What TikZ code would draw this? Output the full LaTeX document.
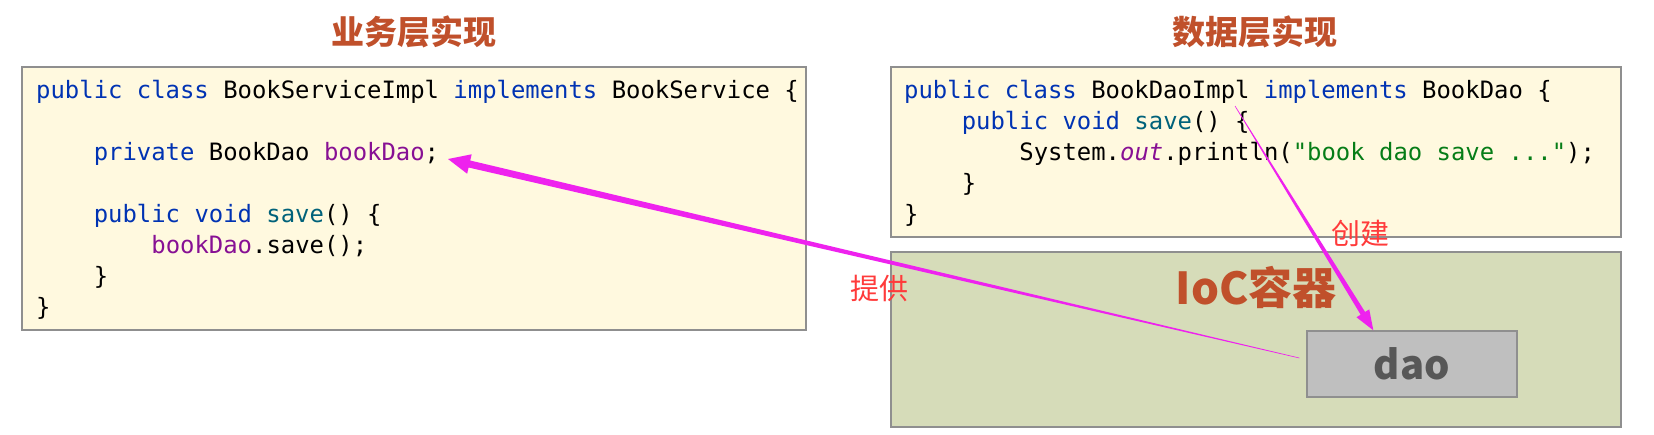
\documentclass[tikz,border=0pt]{standalone}
\usepackage{fontspec}
\usetikzlibrary{calc}
\newfontfamily\codefont{DejaVu Sans Mono}[Ligatures={}]
\newfontfamily\cjk{Noto Sans CJK SC}
\definecolor{kwblue}{HTML}{0033B3}
\definecolor{fieldpurple}{HTML}{871094}
\definecolor{methteal}{HTML}{00627A}
\definecolor{strgreen}{HTML}{067D17}
\definecolor{codebg}{HTML}{FFF9DF}
\definecolor{boxline}{HTML}{8F8F8F}
\definecolor{iocbg}{HTML}{D6DCB9}
\definecolor{daobg}{HTML}{BFBFBF}
\definecolor{daotext}{HTML}{575757}
\definecolor{titlered}{HTML}{C0502B}
\definecolor{labelred}{HTML}{FF3B3B}
\definecolor{arrowmag}{HTML}{EE22EE}
\newcommand{\ckw}[1]{\textcolor{kwblue}{#1}}
\newcommand{\cfd}[1]{\textcolor{fieldpurple}{#1}}
\newcommand{\cme}[1]{\textcolor{methteal}{#1}}
\newcommand{\cst}[1]{\textcolor{strgreen}{#1}}
% tapered arrow: #1 start, #2 tip, #3 start half width, #4 shaft half width, #5 head length, #6 head half width
\newcommand{\taperarrow}[6]{%
  \coordinate (#2-base) at ($(#2)!#5!(#1)$);
  \fill[arrowfill] ($(#1)!#3!90:(#2)$) -- ($(#2-base)!#4!-90:(#1)$) -- ($(#2-base)!#6!-90:(#1)$) -- (#2)
    -- ($(#2-base)!#6!90:(#1)$) -- ($(#2-base)!#4!90:(#1)$) -- ($(#1)!#3!-90:(#2)$) -- cycle;
}
\tikzset{
  codebox/.style={draw=boxline, line width=1.3pt, fill=codebg},
  iocbox/.style={draw=boxline, line width=1.3pt, fill=iocbg},
  daobox/.style={draw=boxline, line width=1.3pt, fill=daobg},
  code/.style={anchor=base west, inner sep=0pt, font=\codefont\fontsize{23.9}{31}\selectfont},
  title/.style={inner sep=0pt, text=titlered, font=\cjk\bfseries\fontsize{33}{40}\selectfont},
  lbl/.style={inner sep=0pt, text=labelred, font=\cjk\fontsize{29}{34}\selectfont},
  arrowfill/.style={fill=arrowmag},
}
\begin{document}
\begin{tikzpicture}[x=1pt,y=-1pt]
\useasboundingbox (0,0) rectangle (1654,434);
\fill[white] (0,0) rectangle (1654,434);
% boxes
\path[codebox] (22,67) rectangle (806,330);
\node[inner sep=0pt, minimum width=784pt, minimum height=263pt] (box1) at (414,198.5) {};
\path[codebox] (891,67) rectangle (1621,237);
\node[inner sep=0pt, minimum width=730pt, minimum height=170pt] (box2) at (1256,152) {};
\node[iocbox, inner sep=0pt, minimum width=730pt, minimum height=175pt] (ioc) at (1256,339.5) {};
\node[daobox, inner sep=0pt, minimum width=210pt, minimum height=66pt, text=daotext,
      font=\cjk\bfseries\fontsize{40}{46}\selectfont] (dao) at (1412,364) {dao};
% titles
\node[title] (t1) at (414,32) {业务层实现};
\node[title] (t2) at (1255,32) {数据层实现};
\node[title, font=\cjk\bfseries\fontsize{44}{50}\selectfont] (ioct) at (1256,287) {IoC容器};
% left code
\node[code] (l1) at (36,98) {\ckw{public class} BookServiceImpl \ckw{implements} BookService \{};
\node[code] (l2) at (93.6,160) {\ckw{private} BookDao \cfd{bookDao};};
\node[code] (l3) at (93.6,222) {\ckw{public void} \cme{save}() \{};
\node[code] (l4) at (151.2,253) {\cfd{bookDao}.save();};
\node[code] (l5) at (93.6,284) {\}};
\node[code] (l6) at (36,315) {\}};
% right code
\node[code] (r1) at (904,98) {\ckw{public class} BookDaoImpl \ckw{implements} BookDao \{};
\node[code] (r2) at (961.6,129) {\ckw{public void} \cme{save}() \{};
\node[code] (r3) at (1019.2,160) {System.\cfd{\itshape out}.println(\cst{"book dao save ..."});};
\node[code] (r4) at (961.6,191) {\}};
\node[code] (r5) at (904,222) {\}};
% labels
\node[lbl] (lprov) at (879,288) {提供};
\node[lbl] (lcreate) at (1360,233) {创建};
% arrows
\coordinate (provS) at ($(dao.west)+(-7,-6)$);
\coordinate (provT) at (448,159);
\taperarrow{provS}{provT}{0.3pt}{3.6pt}{22pt}{10pt}
\coordinate (creS) at (1235,106);
\coordinate (creT) at ($(dao.north west)+(67,0)$);
\taperarrow{creS}{creT}{0.3pt}{2.6pt}{20pt}{7.5pt}
\end{tikzpicture}
\end{document}
